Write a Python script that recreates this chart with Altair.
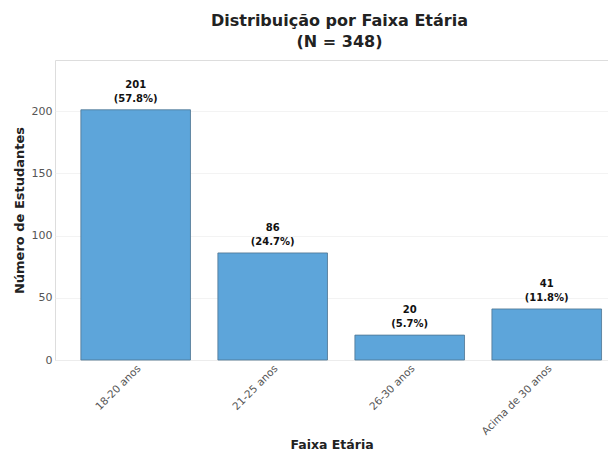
import altair as alt
import pandas as pd

categories = ["18-20 anos", "21-25 anos", "26-30 anos", "Acima de 30 anos"]
counts = [201, 86, 20, 41]
percents = ["57.8%", "24.7%", "5.7%", "11.8%"]

df = pd.DataFrame({
    "faixa": categories,
    "n": counts,
    "count_lbl": [str(c) for c in counts],
    "pct_lbl": [f"({p})" for p in percents],
})

x = alt.X("faixa:N", sort=categories, title="Faixa Etária",
          scale=alt.Scale(paddingInner=0.2, paddingOuter=0.118, align=0.8),
          axis=alt.Axis(labelAngle=-45, labelAlign="right", labelBaseline="top",
                        labelFontSize=10.5, labelColor="#555", ticks=False,
                        labelPadding=3, titleFontSize=12.5, titleFontWeight="bold",
                        titleColor="#222", titlePadding=2, domain=False, grid=False))
y = alt.Y("n:Q", title="Número de Estudantes",
          scale=alt.Scale(domain=[0, 241], nice=False),
          axis=alt.Axis(values=[0, 50, 100, 150, 200], labelFontSize=11, labelColor="#555",
                        ticks=False, labelPadding=3, titleFontSize=13, titleFontWeight="bold",
                        titleColor="#222", titlePadding=5, domain=False,
                        grid=True, gridColor="#f0f0f0", gridWidth=0.8))

bars = alt.Chart(df).mark_bar(color="#5DA5DA", stroke="#4d7391", strokeWidth=0.8).encode(x=x, y=y)
text1 = alt.Chart(df).mark_text(fontSize=10, fontWeight="bold", color="#111",
                                baseline="bottom", dy=-20).encode(
    x=alt.X("faixa:N", sort=categories), y="n:Q", text="count_lbl:N")
text2 = alt.Chart(df).mark_text(fontSize=10, fontWeight="bold", color="#111",
                                baseline="bottom", dy=-6).encode(
    x=alt.X("faixa:N", sort=categories), y="n:Q", text="pct_lbl:N")

chart = (bars + text1 + text2).properties(
    width=553, height=300,
    title=alt.TitleParams(["Distribuição por Faixa Etária", "(N = 348)"], fontSize=16,
                          fontWeight="bold", color="#222", anchor="middle", offset=10,
                          lineHeight=21, dx=8),
).configure_view(stroke="#e0e0e0", strokeWidth=1).configure(
    font="DejaVu Sans", padding={"left": 5, "top": 5, "right": 0, "bottom": 0})

chart.save("out.html", embed_options={"renderer": "svg", "actions": False})
